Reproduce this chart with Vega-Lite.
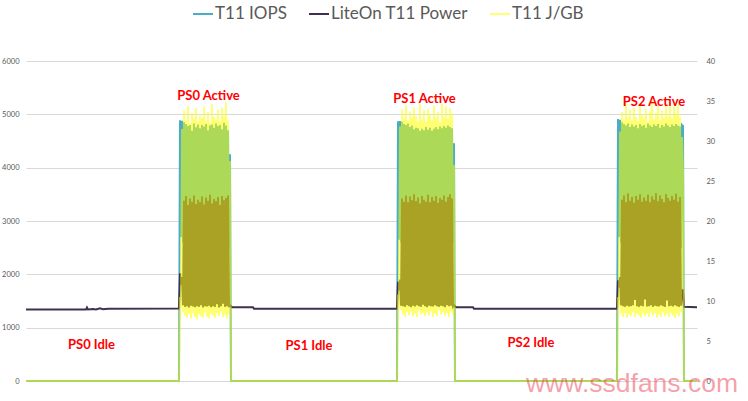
{
  "$schema": "https://vega.github.io/schema/vega-lite/v6.json",
  "width": 671,
  "height": 320,
  "autosize": {"type": "none"},
  "padding": {"left": 26, "top": 61, "right": 51, "bottom": 20},
  "background": "white",
  "config": {
    "view": {"stroke": null},
    "font": "Lato",
    "axis": {"labelFont": "Lato", "labelColor": "#595959", "labelFontSize": 7.5}
  },
  "datasets": {
    "run": [
      {"t":0,"i":0,"p":1340,"j":0},
      {"t":60,"i":0,"p":1340,"j":0},
      {"t":61,"i":0,"p":1378,"j":0},
      {"t":62,"i":0,"p":1342,"j":0},
      {"t":67,"i":0,"p":1350,"j":0},
      {"t":70,"i":0,"p":1340,"j":0},
      {"t":74,"i":0,"p":1362,"j":0},
      {"t":77,"i":0,"p":1345,"j":0},
      {"t":82,"i":0,"p":1356,"j":0},
      {"t":153,"i":0,"p":1358,"j":0},
      {"t":154,"i":4890,"p":2020,"j":10.5},
      {"t":155,"i":2700,"p":1800,"j":9.2},
      {"t":156,"i":4880,"p":1950,"j":31.5},{"t":157,"i":2600,"p":1420,"j":8.6},
      {"t":158,"i":4850,"p":3380,"j":33.8},{"t":159,"i":2450,"p":1390,"j":8.2},
      {"t":160,"i":4820,"p":3470,"j":32.6},{"t":161,"i":2700,"p":1400,"j":7.9},
      {"t":162,"i":4780,"p":3300,"j":34.4},{"t":163,"i":2500,"p":1380,"j":8.4},
      {"t":164,"i":4800,"p":3420,"j":32.2},{"t":165,"i":2550,"p":1410,"j":7.8},
      {"t":166,"i":4690,"p":3360,"j":33.5},{"t":167,"i":2650,"p":1395,"j":8.5},
      {"t":168,"i":4830,"p":3480,"j":32.8},{"t":169,"i":2400,"p":1385,"j":8.0},
      {"t":170,"i":4760,"p":3320,"j":34.1},{"t":171,"i":2600,"p":1400,"j":7.7},
      {"t":172,"i":4810,"p":3400,"j":32.4},{"t":173,"i":2500,"p":1390,"j":8.3},
      {"t":174,"i":4740,"p":3350,"j":33.2},{"t":175,"i":2700,"p":1420,"j":8.1},
      {"t":176,"i":4800,"p":3460,"j":32.9},{"t":177,"i":2450,"p":1380,"j":7.9},
      {"t":178,"i":4770,"p":3310,"j":34.3},{"t":179,"i":2550,"p":1400,"j":8.6},
      {"t":180,"i":4820,"p":3440,"j":32.5},{"t":181,"i":2600,"p":1395,"j":8.0},
      {"t":182,"i":4700,"p":3380,"j":33.6},{"t":183,"i":2500,"p":1410,"j":7.8},
      {"t":184,"i":4790,"p":3490,"j":32.3},{"t":185,"i":2650,"p":1385,"j":8.4},
      {"t":186,"i":4810,"p":3330,"j":34.6},{"t":187,"i":2400,"p":1400,"j":8.2},
      {"t":188,"i":4750,"p":3410,"j":33.0},{"t":189,"i":2550,"p":1390,"j":7.9},
      {"t":190,"i":4830,"p":3370,"j":32.7},{"t":191,"i":2600,"p":1440,"j":8.5},
      {"t":192,"i":4780,"p":3450,"j":33.9},{"t":193,"i":2500,"p":1380,"j":8.1},
      {"t":194,"i":4800,"p":3300,"j":32.5},{"t":195,"i":2450,"p":1400,"j":8.7},
      {"t":196,"i":4720,"p":3470,"j":34.2},{"t":197,"i":2700,"p":1450,"j":8.0},
      {"t":198,"i":4840,"p":3390,"j":33.1},{"t":199,"i":2550,"p":1390,"j":8.3},
      {"t":200,"i":4790,"p":3430,"j":34.8},{"t":201,"i":2600,"p":1400,"j":7.8},
      {"t":202,"i":4700,"p":3480,"j":32.6},{"t":203,"i":2500,"p":1385,"j":8.4},
      {"t":204,"i":4250,"p":1420,"j":27.5},
      {"t":205,"i":0,"p":1400,"j":0},
      {"t":206,"i":0,"p":1385,"j":0},
      {"t":227,"i":0,"p":1385,"j":0},
      {"t":228,"i":0,"p":1355,"j":0},
      {"t":371,"i":0,"p":1355,"j":0},
      {"t":372,"i":4870,"p":1860,"j":10.8},
      {"t":373,"i":2650,"p":1700,"j":9.0},
      {"t":374,"i":4875,"p":1900,"j":31.8},{"t":375,"i":2600,"p":1410,"j":8.9},
      {"t":376,"i":4860,"p":3420,"j":33.9},{"t":377,"i":2500,"p":1400,"j":8.3},
      {"t":378,"i":4820,"p":3360,"j":32.8},{"t":379,"i":2700,"p":1390,"j":8.0},
      {"t":380,"i":4800,"p":3480,"j":34.5},{"t":381,"i":2450,"p":1420,"j":8.6},
      {"t":382,"i":4830,"p":3350,"j":32.6},{"t":383,"i":2600,"p":1400,"j":8.2},
      {"t":384,"i":4760,"p":3460,"j":33.7},{"t":385,"i":2550,"p":1385,"j":8.7},
      {"t":386,"i":4790,"p":3390,"j":32.9},{"t":387,"i":2650,"p":1410,"j":8.1},
      {"t":388,"i":4720,"p":3500,"j":34.2},{"t":389,"i":2500,"p":1395,"j":8.4},
      {"t":390,"i":4750,"p":3370,"j":33.1},{"t":391,"i":2400,"p":1420,"j":8.0},
      {"t":392,"i":4740,"p":3440,"j":32.5},{"t":393,"i":2600,"p":1400,"j":8.8},
      {"t":394,"i":4690,"p":3330,"j":34.6},{"t":395,"i":2550,"p":1390,"j":8.3},
      {"t":396,"i":4730,"p":3470,"j":32.7},{"t":397,"i":2700,"p":1430,"j":8.5},
      {"t":398,"i":4700,"p":3400,"j":33.8},{"t":399,"i":2450,"p":1400,"j":8.1},
      {"t":400,"i":4760,"p":3360,"j":32.4},{"t":401,"i":2600,"p":1385,"j":8.6},
      {"t":402,"i":4710,"p":3490,"j":34.0},{"t":403,"i":2500,"p":1410,"j":8.2},
      {"t":404,"i":4750,"p":3350,"j":33.3},{"t":405,"i":2650,"p":1400,"j":8.7},
      {"t":406,"i":4690,"p":3450,"j":32.6},{"t":407,"i":2550,"p":1395,"j":8.0},
      {"t":408,"i":4730,"p":3380,"j":34.4},{"t":409,"i":2400,"p":1420,"j":8.4},
      {"t":410,"i":4760,"p":3470,"j":32.9},{"t":411,"i":2600,"p":1400,"j":8.1},
      {"t":412,"i":4720,"p":3340,"j":33.6},{"t":413,"i":2500,"p":1390,"j":8.9},
      {"t":414,"i":4770,"p":3430,"j":32.3},{"t":415,"i":2700,"p":1410,"j":8.3},
      {"t":416,"i":4740,"p":3400,"j":34.7},{"t":417,"i":2550,"p":1400,"j":8.6},
      {"t":418,"i":4780,"p":3480,"j":33.0},{"t":419,"i":2600,"p":1385,"j":8.2},
      {"t":420,"i":4750,"p":3360,"j":34.3},{"t":421,"i":2450,"p":1420,"j":8.5},
      {"t":422,"i":4790,"p":3450,"j":32.8},{"t":423,"i":2650,"p":1400,"j":8.0},
      {"t":424,"i":4760,"p":3500,"j":34.1},{"t":425,"i":2500,"p":1410,"j":8.7},
      {"t":426,"i":4740,"p":3420,"j":33.4},{"t":427,"i":2600,"p":1395,"j":8.3},
      {"t":428,"i":4460,"p":1420,"j":27.0},
      {"t":429,"i":0,"p":1400,"j":0},
      {"t":430,"i":0,"p":1385,"j":0},
      {"t":447,"i":0,"p":1385,"j":0},
      {"t":448,"i":0,"p":1355,"j":0},
      {"t":591,"i":0,"p":1355,"j":0},
      {"t":592,"i":4910,"p":1890,"j":10.5},
      {"t":593,"i":2700,"p":1750,"j":9.3},
      {"t":594,"i":4900,"p":1950,"j":31.2},{"t":595,"i":2600,"p":1420,"j":8.4},
      {"t":596,"i":4850,"p":3400,"j":33.6},{"t":597,"i":2500,"p":1400,"j":8.0},
      {"t":598,"i":4820,"p":3480,"j":32.7},{"t":599,"i":2650,"p":1390,"j":8.5},
      {"t":600,"i":4790,"p":3350,"j":34.8},{"t":601,"i":2450,"p":1410,"j":7.9},
      {"t":602,"i":4830,"p":3520,"j":32.9},{"t":603,"i":2600,"p":1395,"j":8.3},
      {"t":604,"i":4760,"p":3380,"j":33.9},{"t":605,"i":2550,"p":1400,"j":8.1},
      {"t":606,"i":4810,"p":3450,"j":32.6},{"t":607,"i":2700,"p":1420,"j":8.6},
      {"t":608,"i":4770,"p":3340,"j":34.2},{"t":609,"i":2500,"p":1520,"j":8.0},
      {"t":610,"i":4800,"p":3470,"j":33.0},{"t":611,"i":2600,"p":1400,"j":8.4},
      {"t":612,"i":4740,"p":3400,"j":32.5},{"t":613,"i":2450,"p":1390,"j":8.2},
      {"t":614,"i":4820,"p":3500,"j":34.5},{"t":615,"i":2650,"p":1410,"j":7.9},
      {"t":616,"i":4780,"p":3360,"j":33.2},{"t":617,"i":2550,"p":1400,"j":8.5},
      {"t":618,"i":4800,"p":3440,"j":32.8},{"t":619,"i":2600,"p":1530,"j":8.1},
      {"t":620,"i":4750,"p":3380,"j":34.0},{"t":621,"i":2500,"p":1395,"j":8.4},
      {"t":622,"i":4830,"p":3490,"j":32.4},{"t":623,"i":2700,"p":1400,"j":8.0},
      {"t":624,"i":4790,"p":3350,"j":33.7},{"t":625,"i":2450,"p":1420,"j":8.6},
      {"t":626,"i":4760,"p":3460,"j":35.0},{"t":627,"i":2600,"p":1390,"j":8.2},
      {"t":628,"i":4810,"p":3400,"j":32.7},{"t":629,"i":2550,"p":1410,"j":8.5},
      {"t":630,"i":4780,"p":3520,"j":33.5},{"t":631,"i":2650,"p":1400,"j":7.9},
      {"t":632,"i":4820,"p":3370,"j":34.4},{"t":633,"i":2500,"p":1395,"j":8.3},
      {"t":634,"i":4750,"p":3480,"j":32.6},{"t":635,"i":2600,"p":1420,"j":8.0},
      {"t":636,"i":4800,"p":3410,"j":33.8},{"t":637,"i":2450,"p":1400,"j":8.6},
      {"t":638,"i":4770,"p":3350,"j":32.9},{"t":639,"i":2550,"p":1390,"j":8.1},
      {"t":640,"i":4830,"p":3500,"j":34.7},{"t":641,"i":2700,"p":1510,"j":8.4},
      {"t":642,"i":4790,"p":3430,"j":33.1},{"t":643,"i":2600,"p":1400,"j":8.0},
      {"t":644,"i":4760,"p":3380,"j":34.9},{"t":645,"i":2500,"p":1410,"j":8.5},
      {"t":646,"i":4810,"p":3470,"j":32.8},{"t":647,"i":2450,"p":1395,"j":8.2},
      {"t":648,"i":4780,"p":3400,"j":34.3},{"t":649,"i":2650,"p":1420,"j":7.9},
      {"t":650,"i":4820,"p":3510,"j":33.4},{"t":651,"i":2550,"p":1400,"j":8.4},
      {"t":652,"i":4790,"p":3360,"j":34.6},{"t":653,"i":2600,"p":1390,"j":8.1},
      {"t":654,"i":4770,"p":3450,"j":33.0},{"t":655,"i":2500,"p":1410,"j":8.6},
      {"t":656,"i":4800,"p":1700,"j":30.5},
      {"t":657,"i":4780,"p":1700,"j":26.0},
      {"t":658,"i":0,"p":1390,"j":0},
      {"t":671,"i":0,"p":1385,"j":0}
    ],
    "notes": [
      {"label":"PS0 Active","t":182.5,"v":5344},
      {"label":"PS1 Active","t":398.5,"v":5288},
      {"label":"PS2 Active","t":628,"v":5237},
      {"label":"PS0 Idle","t":65.5,"v":675},
      {"label":"PS1 Idle","t":283,"v":656},
      {"label":"PS2 Idle","t":505,"v":712}
    ]
  },
  "layer": [
    {
      "data": {"name": "run"},
      "mark": {"type": "line", "strokeWidth": 2},
      "encoding": {
        "x": {
          "field": "t", "type": "quantitative",
          "scale": {"domain": [0, 671], "nice": false, "zero": false},
          "axis": {"title": null, "labels": false, "ticks": false, "grid": false, "domain": true, "domainColor": "#D9D9D9", "domainWidth": 1}
        },
        "y": {
          "field": "i", "type": "quantitative",
          "scale": {"domain": [0, 6000], "nice": false},
          "axis": {"title": null, "values": [0, 1000, 2000, 3000, 4000, 5000, 6000], "format": "d", "grid": true, "gridColor": "#D9D9D9", "gridWidth": 1, "domain": false, "ticks": false, "labelPadding": 7}
        },
        "color": {
          "datum": "T11 IOPS", "type": "nominal",
          "scale": {"domain": ["T11 IOPS", "LiteOn T11 Power", "T11 J/GB"], "range": ["#4BACC6", "#403152", "rgba(255,255,0,0.55)"]},
          "legend": {
            "title": null, "orient": "none", "legendX": 166, "legendY": -58, "direction": "horizontal",
            "symbolType": "stroke", "symbolSize": 400, "symbolStrokeWidth": 2,
            "labelFont": "Lato", "labelFontSize": 17, "labelColor": "#595959", "labelOffset": 1,
            "columnPadding": 18, "padding": 0
          }
        }
      }
    },
    {
      "data": {"name": "run"},
      "mark": {"type": "line", "strokeWidth": 2},
      "encoding": {
        "x": {"field": "t", "type": "quantitative"},
        "y": {"field": "p", "type": "quantitative", "scale": {"domain": [0, 6000], "nice": false}, "axis": null},
        "color": {"datum": "LiteOn T11 Power", "type": "nominal"}
      }
    },
    {
      "data": {"name": "run"},
      "mark": {"type": "line", "strokeWidth": 2},
      "encoding": {
        "x": {"field": "t", "type": "quantitative"},
        "y": {
          "field": "j", "type": "quantitative",
          "scale": {"domain": [0, 40], "nice": false},
          "axis": {"orient": "right", "title": null, "values": [0, 5, 10, 15, 20, 25, 30, 35, 40], "format": "d", "grid": false, "domain": false, "ticks": false, "labelPadding": 9}
        },
        "color": {"datum": "T11 J/GB", "type": "nominal"}
      }
    },
    {
      "data": {"name": "notes"},
      "mark": {"type": "text", "font": "Lato", "fontWeight": "bold", "fontSize": 13, "color": "#FF0000", "align": "center", "baseline": "middle"},
      "encoding": {
        "x": {"field": "t", "type": "quantitative"},
        "y": {"field": "v", "type": "quantitative", "scale": {"domain": [0, 6000], "nice": false}, "axis": null},
        "text": {"field": "label"}
      }
    },
    {
      "data": {"values": [{"site": "www.ssdfans.com"}]},
      "mark": {"type": "text", "font": "Liberation Sans", "fontSize": 26.5, "color": "rgba(235,65,85,0.5)", "align": "center", "baseline": "alphabetic"},
      "encoding": {
        "x": {"datum": 606, "type": "quantitative"},
        "y": {"datum": -206, "type": "quantitative", "scale": {"domain": [0, 6000], "nice": false}, "axis": null},
        "text": {"field": "site"}
      }
    }
  ],
  "resolve": {"scale": {"y": "independent"}}
}
